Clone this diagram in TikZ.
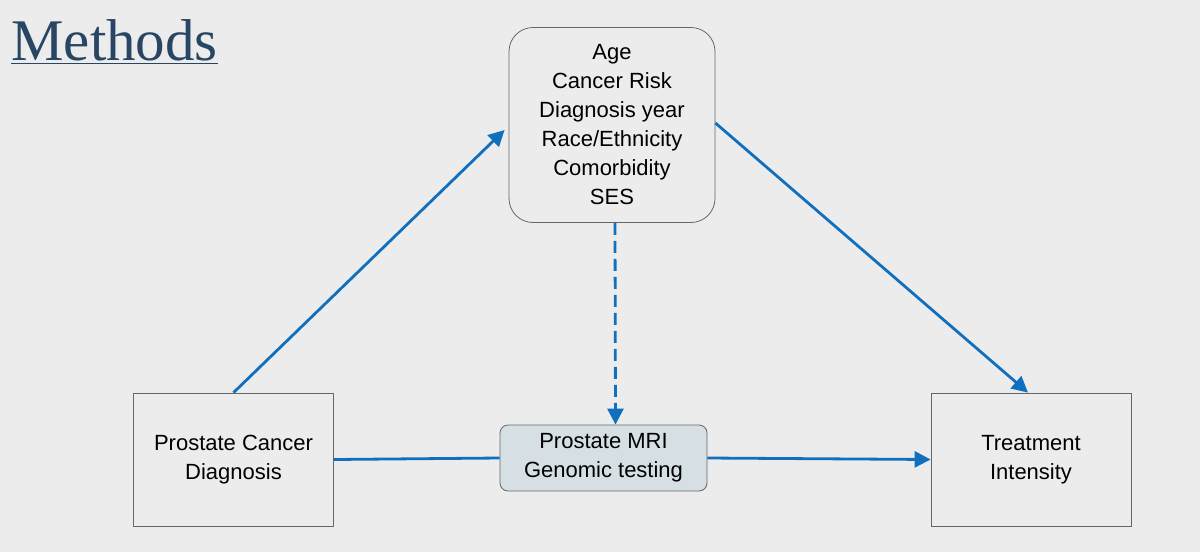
\documentclass[tikz,border=0pt]{standalone}
\usepackage{fontspec}
\setmainfont{Liberation Sans}
\newfontfamily\titlefont{Liberation Serif}
\usetikzlibrary{positioning,arrows.meta}
\definecolor{bgc}{RGB}{236,236,236}
\definecolor{arrc}{RGB}{16,112,190}
\definecolor{titc}{RGB}{40,70,100}
\definecolor{midc}{RGB}{214,224,228}
\begin{document}
\begin{tikzpicture}[x=0.5pt,y=-0.5pt,
    box/.style={draw=gray!80!black,thin,minimum width=100pt,minimum height=66.5pt,align=center,font=\fontsize{11}{14.5}\selectfont},
    link/.style={draw=arrc,line width=1.4pt},
    tip/.style={-{Triangle[length=8pt,width=8pt]}}
]
    \fill[bgc] (0,0) rectangle (1200,552);
    \useasboundingbox (0,0) rectangle (1200,552);

    \node[anchor=west,text=titc,font=\titlefont\fontsize{29.5}{32}\selectfont,inner sep=0] (title) at (11,42) {\underline{Methods}};

    \node[box,rounded corners=12pt,minimum width=103pt,minimum height=97.5pt] (conf) at (612,125)
        {Age\\Cancer Risk\\Diagnosis year\\Race/Ethnicity\\Comorbidity\\SES};
    \node[box] (diag) at (233.5,459.5) {Prostate Cancer\\Diagnosis};
    \node[box] (treat) at (1031,459.5) {Treatment\\Intensity};
    \node[box,fill=midc,rounded corners=4pt,minimum width=103.5pt,minimum height=33pt,inner sep=1pt] (mri) at (603.5,458)
        {Prostate MRI\\Genomic testing};

    \draw[link,tip] (diag.north) -- ([xshift=-2pt,yshift=-2.5pt]conf.west);
    \draw[link,tip] ([yshift=1pt]conf.east) -- ([xshift=-1.5pt]treat.north);
    \draw[link,tip,dash pattern=on 6pt off 3pt] ([xshift=1.5pt]conf.south) -- ([xshift=6pt]mri.north);
    \draw[link] (diag.east) -- (mri.west);
    \draw[link,tip] (mri.east) -- (treat.west);
\end{tikzpicture}
\end{document}
